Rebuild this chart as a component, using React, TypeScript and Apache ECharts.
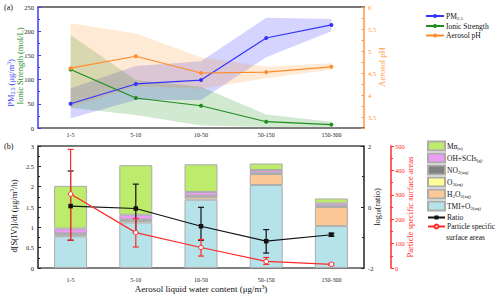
import React, { useEffect, useRef } from 'react';
import * as echarts from 'echarts';

const categories = ['1-5', '5-10', '10-50', '50-150', '150-300'];

// Panel (a)
const pm25 = [50, 91, 99, 186, 213];
const pm25Low = [20, 58, 58, 146, 200];
const pm25High = [82, 128, 138, 228, 225];
const ionic = [121, 62, 46, 13, 7];
const ionicLow = [42, 27, 5, 2, 2];
const ionicHigh = [192, 99, 85, 28, 13];
const ph = [4.61, 4.88, 4.5, 4.52, 4.64];
const phLow = [3.72, 4.2, 4.14, 4.38, 4.58];
const phHigh = [5.63, 5.4, 4.86, 4.64, 4.72];

// Panel (b)
const tmi = [0.78, 1.12, 1.68, 2.04, 1.03];
const h2o2 = [0.04, 0.04, 0.07, 0.27, 0.47];
const o3 = [0.02, 0.02, 0.02, 0.02, 0.02];
const no2 = [0.01, 0.01, 0.01, 0.01, 0.01];
const ohScis = [0.12, 0.12, 0.09, 0.07, 0.06];
const mn = [1.05, 1.22, 0.68, 0.16, 0.12];
const logRatio = [0.03, -0.05, -0.63, -1.12, -0.91];
const logRatioLow = [-1.09, -0.85, -1.09, -1.51, -0.96];
const logRatioHigh = [1.18, 0.75, -0.01, -0.74, -0.86];
const surface = [303, 145, 84, 27, 15];
const surfaceLow = [114, 86, 49, 15, 10];
const surfaceHigh = [486, 203, 117, 43, 20];

const FONT = '"Liberation Serif", "Times New Roman", serif';

const errorItem = (color: string) => (params: any, api: any) => {
  const x = api.value(0);
  const lo = api.coord([x, api.value(1)]);
  const hi = api.coord([x, api.value(2)]);
  const w = 3;
  const style = { stroke: color, lineWidth: 1.2 };
  return {
    type: 'group',
    children: [
      { type: 'line', shape: { x1: hi[0], y1: hi[1], x2: lo[0], y2: lo[1] }, style },
      { type: 'line', shape: { x1: hi[0] - w, y1: hi[1], x2: hi[0] + w, y2: hi[1] }, style },
      { type: 'line', shape: { x1: lo[0] - w, y1: lo[1], x2: lo[0] + w, y2: lo[1] }, style },
    ],
  };
};

const diff = (hi: number[], lo: number[]) => hi.map((v, i) => +(v - lo[i]).toFixed(4));

const band = (name: string, lo: number[], hi: number[], color: string, yAxisIndex: number) => [
  {
    name: name + '_lo', type: 'line', xAxisIndex: 0, yAxisIndex, stack: name, data: lo,
    symbol: 'none', lineStyle: { width: 0, opacity: 0 }, silent: true, z: 1,
  },
  {
    name: name + '_hi', type: 'line', xAxisIndex: 0, yAxisIndex, stack: name, data: diff(hi, lo),
    symbol: 'none', lineStyle: { width: 0, opacity: 0 }, areaStyle: { color, opacity: 1 }, silent: true, z: 1,
  },
];

const barColors: Record<string, string> = {
  'TMI+O2(aq)': '#b6e3e9',
  'H2O2(aq)': '#fdc898',
  'O3(aq)': '#ffff99',
  'NO2(aq)': '#808080',
  'OH+SCIs(g)': '#eb9cf3',
  'Mn(s)': '#bdeb6c',
};

const richBase = {
  n: { fontFamily: FONT, fontSize: 7.5, color: '#111' },
  s: { fontFamily: FONT, fontSize: 5, color: '#111', padding: [4, 0, 0, 0] },
};

const legendFmt: Record<string, string> = {
  'PM2.5': '{n|PM}{s|2.5}',
  'Ionic Strength': '{n|Ionic Strength}',
  'Aerosol pH': '{n|Aerosol pH}',
  'Mn(s)': '{n|Mn}{s|(s)}',
  'OH+SCIs(g)': '{n|OH+SCIs}{s|(g)}',
  'NO2(aq)': '{n|NO}{s|2(aq)}',
  'O3(aq)': '{n|O}{s|3(aq)}',
  'H2O2(aq)': '{n|H}{s|2}{n|O}{s|2(aq)}',
  'TMI+O2(aq)': '{n|TMI+O}{s|2(aq)}',
  'Ratio': '{n|Ratio}',
  'Particle specific surface areas': '{n|Particle specific}',
};

const vText = (x: number, y: number, text: string, color: string, rich: any = {}, size = 8.5) => ({
  type: 'text', x, y, rotation: Math.PI / 2,
  style: {
    text, fill: color, fontFamily: FONT, fontSize: size, align: 'center', verticalAlign: 'middle',
    rich,
  },
});

export default function App() {
  const ref = useRef<HTMLDivElement>(null);
  useEffect(() => {
    document.body.style.margin = '0';
    const chart = echarts.init(ref.current!, null, { renderer: 'svg' });
    const axisLabelBase = { fontFamily: FONT, fontSize: 6.5, color: '#222' };
    const barNames = ['TMI+O2(aq)', 'H2O2(aq)', 'O3(aq)', 'NO2(aq)', 'OH+SCIs(g)', 'Mn(s)'];
    const barData = [tmi, h2o2, o3, no2, ohScis, mn];
    const supRich = (color: string, size: number) => ({
      p: { fontFamily: FONT, fontSize: size * 0.65, fill: color, color, padding: [0, 0, 4, 0] },
      s: { fontFamily: FONT, fontSize: size * 0.65, fill: color, color, padding: [4, 0, 0, 0] },
      n: { fontFamily: FONT, fontSize: size, fill: color, color },
    });
    const legendText = { fontFamily: FONT, fontSize: 7.5, color: '#111', rich: richBase, padding: [0, 0, 0, -3] };
    const option: any = {
      animation: false,
      backgroundColor: '#fff',
      textStyle: { fontFamily: FONT },
      grid: [
        { left: 38, top: 7, width: 326, height: 121 },
        { left: 38, top: 146, width: 326, height: 122 },
      ],
      xAxis: [
        {
          gridIndex: 0, type: 'category', data: categories, boundaryGap: true,
          axisLine: { onZero: false, lineStyle: { color: '#555', width: 1.5 } },
          axisTick: { inside: true, alignWithLabel: true, length: 3, lineStyle: { color: '#333' } },
          axisLabel: { ...axisLabelBase, fontSize: 6, margin: 4 },
          splitLine: { show: false },
        },
        {
          gridIndex: 0, type: 'category', data: categories, position: 'top',
          axisLine: { onZero: false, lineStyle: { color: '#777', width: 2 } },
          axisTick: { show: false }, axisLabel: { show: false },
        },
        {
          gridIndex: 1, type: 'category', data: categories, boundaryGap: true,
          axisLine: { onZero: false, lineStyle: { color: '#555', width: 1.5 } },
          axisTick: { inside: true, alignWithLabel: true, length: 3, lineStyle: { color: '#333' } },
          axisLabel: { ...axisLabelBase, fontSize: 6, margin: 9 },
          name: '{n|Aerosol liquid water content (μg/m}{p|3}{n|)}',
          nameLocation: 'middle', nameGap: 15,
          nameTextStyle: { fontFamily: FONT, fontSize: 9, color: '#111', rich: supRich('#111', 9) },
          splitLine: { show: false },
        },
        {
          gridIndex: 1, type: 'category', data: categories, position: 'top',
          axisLine: { onZero: false, lineStyle: { color: '#777', width: 2 } },
          axisTick: { show: false }, axisLabel: { show: false },
        },
      ],
      yAxis: [
        {
          gridIndex: 0, type: 'value', position: 'left', min: 0, max: 250, interval: 50,
          axisLine: { show: true, lineStyle: { color: '#3a3aff', width: 1.5 } },
          axisTick: { show: true, inside: true, length: 3, lineStyle: { color: '#3a3aff' } },
          minorTick: { show: true, splitNumber: 2, length: 2, lineStyle: { color: '#3a3aff' } },
          axisLabel: { ...axisLabelBase, margin: 4 },
          splitLine: { show: false },
        },
        {
          gridIndex: 0, type: 'value', position: 'right', min: 3.25, max: 6, interval: 0.25,
          axisLine: { show: true, lineStyle: { color: '#ff9a40', width: 1.5 } },
          axisTick: { show: true, inside: true, length: 2.5, lineStyle: { color: '#ff9a40' } },
          axisLabel: {
            ...axisLabelBase, color: '#ff9a40', margin: 4,
            formatter: (v: number) => (Math.abs(v * 2 - Math.round(v * 2)) < 1e-6 ? String(v) : ''),
          },
          splitLine: { show: false },
        },
        {
          gridIndex: 1, type: 'value', position: 'left', min: 0, max: 3, interval: 0.5,
          axisLine: { show: true, lineStyle: { color: '#222', width: 1.5 } },
          axisTick: { show: true, inside: true, length: 3, lineStyle: { color: '#222' } },
          minorTick: { show: true, splitNumber: 2, length: 2, lineStyle: { color: '#222' } },
          axisLabel: { ...axisLabelBase, margin: 4 },
          splitLine: { show: false },
        },
        {
          gridIndex: 1, type: 'value', position: 'right', min: -2, max: 2, interval: 2,
          axisLine: { show: true, lineStyle: { color: '#222', width: 1.5 } },
          axisTick: { show: true, inside: true, length: 3, lineStyle: { color: '#222' } },
          minorTick: { show: true, splitNumber: 2, length: 2, lineStyle: { color: '#222' } },
          axisLabel: { ...axisLabelBase, margin: 4 },
          splitLine: { show: false },
        },
        {
          gridIndex: 1, type: 'value', position: 'right', offset: 27, min: 0, max: 500, interval: 100,
          axisLine: { show: true, lineStyle: { color: '#ff2a2a', width: 1.5 } },
          axisTick: { show: true, length: 3, lineStyle: { color: '#ff2a2a' } },
          minorTick: { show: true, splitNumber: 2, length: 2, lineStyle: { color: '#ff2a2a' } },
          axisLabel: { ...axisLabelBase, color: '#ff2a2a', margin: 4 },
          splitLine: { show: false },
        },
      ],
      legend: [
        {
          data: ['PM2.5', 'Ionic Strength', 'Aerosol pH'],
          orient: 'vertical', left: 420, top: 7, itemWidth: 18, itemHeight: 5, itemGap: 1.5,
          selectedMode: false,
          textStyle: legendText,
          formatter: (name: string) => legendFmt[name] || name,
        },
        {
          data: ['Mn(s)', 'OH+SCIs(g)', 'NO2(aq)', 'O3(aq)', 'H2O2(aq)', 'TMI+O2(aq)'].map((n) => ({ name: n, icon: 'rect' })),
          orient: 'vertical', left: 422, top: 135.5, itemWidth: 17, itemHeight: 9, itemGap: 1,
          selectedMode: false,
          textStyle: legendText,
          formatter: (name: string) => legendFmt[name] || name,
        },
        {
          data: ['Ratio', 'Particle specific surface areas'],
          orient: 'vertical', left: 422, top: 208.5, itemWidth: 17, itemHeight: 5, itemGap: 1,
          selectedMode: false,
          textStyle: legendText,
          formatter: (name: string) => legendFmt[name] || name,
        },
      ],
      graphic: [
        { type: 'text', x: 4, y: 7, style: { text: '(a)', fontFamily: FONT, fontSize: 8, fill: '#111', verticalAlign: 'middle' } },
        { type: 'text', x: 4, y: 146, style: { text: '(b)', fontFamily: FONT, fontSize: 8, fill: '#111', verticalAlign: 'middle' } },
        { type: 'text', x: 446, y: 237.5, style: { text: 'surface areas', fontFamily: FONT, fontSize: 7.5, fill: '#111', verticalAlign: 'middle' } },
        vText(11, 83, '{n|PM}{s|2.5}{n| (μg/m}{p|3}{n|)}', '#3a3aff', supRich('#3a3aff', 8.5)),
        vText(20, 66, 'Ionic Strength (mol/L)', '#1e8c1e', {}, 8.5),
        vText(382, 67, 'Aerosol pH', '#ff9a40', {}, 8.5),
        vText(14, 216, '{n|d[S(IV)]/dt (μg/m}{p|3}{n|/h)}', '#111', supRich('#111', 8.5)),
        vText(377, 207, '{n|log}{s|10}{n|(ratio)}', '#111', supRich('#111', 8.5)),
        vText(410, 207, 'Particle specific surface areas', '#ff2a2a', {}, 8.5),
      ],
      series: [
        ...band('pmBand', pm25Low, pm25High, 'rgba(40,40,255,0.2)', 0),
        ...band('ionBand', ionicLow, ionicHigh, 'rgba(0,128,0,0.18)', 0),
        ...band('phBand', phLow, phHigh, 'rgba(255,140,20,0.18)', 1),
        {
          name: 'PM2.5', type: 'line', xAxisIndex: 0, yAxisIndex: 0, data: pm25, z: 5,
          symbol: 'circle', symbolSize: 4, itemStyle: { color: '#3333ff' }, lineStyle: { color: '#3333ff', width: 1.2 },
        },
        {
          name: 'Ionic Strength', type: 'line', xAxisIndex: 0, yAxisIndex: 0, data: ionic, z: 5,
          symbol: 'circle', symbolSize: 4, itemStyle: { color: '#1e8c1e' }, lineStyle: { color: '#1e8c1e', width: 1.2 },
        },
        {
          name: 'Aerosol pH', type: 'line', xAxisIndex: 0, yAxisIndex: 1, data: ph, z: 5,
          symbol: 'circle', symbolSize: 4, itemStyle: { color: '#ff8c2a' }, lineStyle: { color: '#ff8c2a', width: 1.2 },
        },
        ...barNames.map((n, k) => ({
          name: n, type: 'bar', xAxisIndex: 2, yAxisIndex: 2, stack: 'bars', data: barData[k],
          barWidth: 33,
          itemStyle: { color: barColors[n], borderColor: '#acacac', borderWidth: 1 },
          z: 2,
        })),
        {
          name: 'Ratio', type: 'line', xAxisIndex: 2, yAxisIndex: 3, data: logRatio, z: 6,
          symbol: 'rect', symbolSize: 4.5, itemStyle: { color: '#111' }, lineStyle: { color: '#111', width: 1.2 },
        },
        {
          name: 'ratioErr', type: 'custom', xAxisIndex: 2, yAxisIndex: 3, z: 6,
          renderItem: errorItem('#111'), encode: { x: 0, y: [1, 2] },
          data: categories.map((_, i) => [i, logRatioLow[i], logRatioHigh[i]]),
        },
        {
          name: 'Particle specific surface areas', type: 'line', xAxisIndex: 2, yAxisIndex: 4, data: surface, z: 7,
          symbol: 'circle', symbolSize: 4.5,
          itemStyle: { color: '#fff', borderColor: '#ff2a2a', borderWidth: 1 },
          lineStyle: { color: '#ff2a2a', width: 1.2 },
        },
        {
          name: 'surfErr', type: 'custom', xAxisIndex: 2, yAxisIndex: 4, z: 6,
          renderItem: errorItem('#ff2a2a'), encode: { x: 0, y: [1, 2] },
          data: categories.map((_, i) => [i, surfaceLow[i], surfaceHigh[i]]),
        },
      ],
    };
    chart.setOption(option);
    return () => chart.dispose();
  }, []);
  return <div ref={ref} style={{ width: 500, height: 296, position: 'absolute', left: 0, top: 0 }} />;
}
